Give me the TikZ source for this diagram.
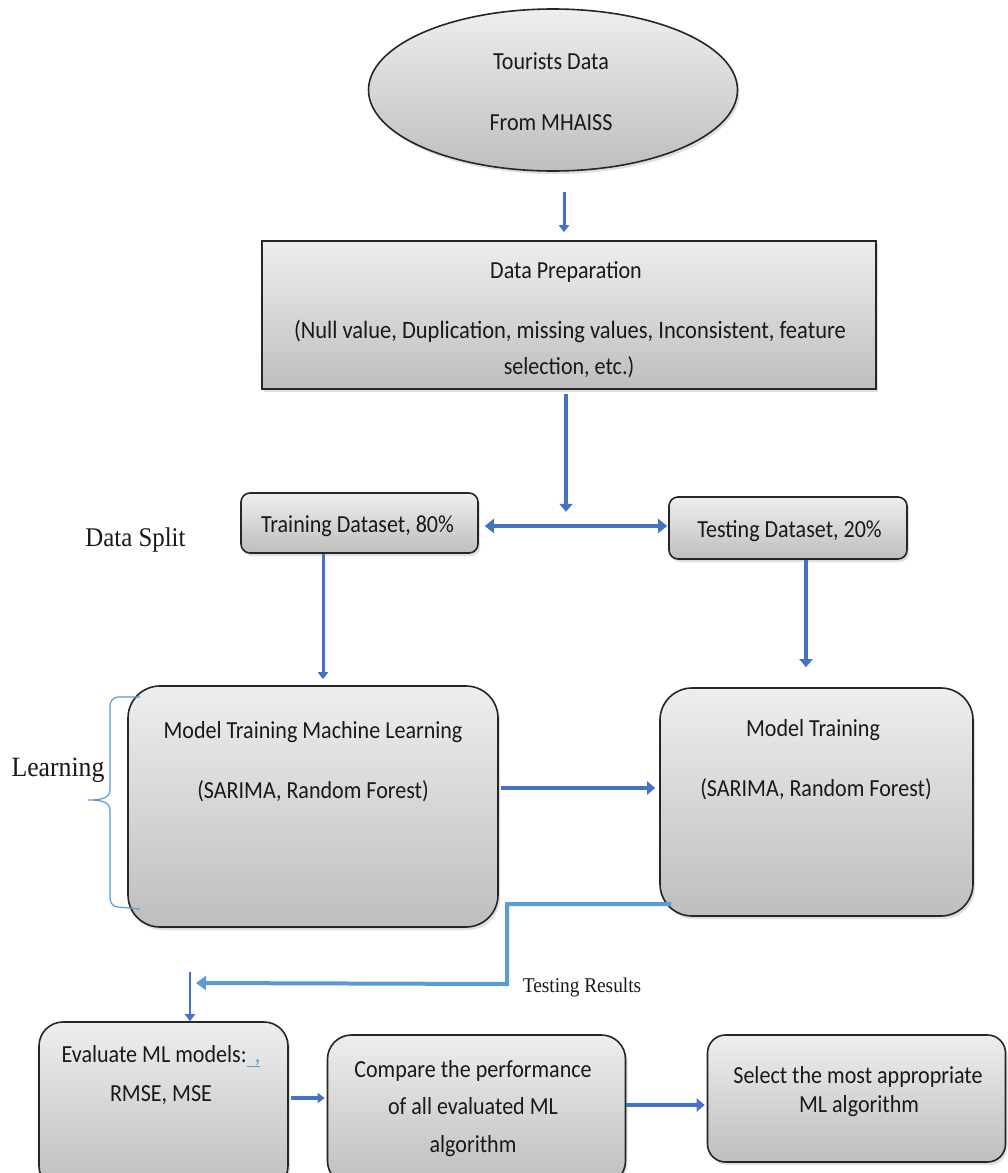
\documentclass[tikz,border=0pt]{standalone}
\usepackage{fontspec}
\setmainfont{Carlito}[FakeStretch=0.9]
\newfontfamily\serifont{Liberation Serif}[FakeStretch=0.92]
\usetikzlibrary{arrows.meta,shadows,shapes.geometric,calc}
\definecolor{arrowblue}{RGB}{68,114,196}
\definecolor{lightblue}{RGB}{91,155,213}
\definecolor{gtop}{RGB}{238,238,238}
\definecolor{gbot}{RGB}{190,190,190}
\definecolor{txtc}{RGB}{25,25,25}
\begin{document}
\begin{tikzpicture}[x=1pt,y=-1pt,
  box/.style={draw=black!85, line width=1.6pt, top color=gtop, bottom color=gbot,
    drop shadow={opacity=0.25,shadow xshift=2pt,shadow yshift=-3pt}, inner sep=0pt},
  rbox/.style={box, rectangle, rounded corners=#1},
  txt/.style={font=\fontsize{24.5}{28}\selectfont, text=txtc, inner sep=0pt, anchor=base},
  stxt/.style={font=\serifont\fontsize{27}{30}\selectfont, text=txtc, inner sep=0pt, anchor=base},
  arrA/.style={draw=arrowblue, line width=3pt, -{Triangle[length=7pt,width=10pt]}},
  arrB/.style={draw=arrowblue, line width=4.5pt, -{Triangle[length=8pt,width=13pt]}},
  dblarr/.style={draw=arrowblue, line width=4.5pt, {Triangle[length=9pt,width=14pt]}-{Triangle[length=9pt,width=14pt]}},
  resline/.style={draw=lightblue, line width=4pt, -{Triangle[length=10pt,width=14pt]}},
  bracestyle/.style={draw=lightblue, line width=1.2pt}
]
\clip (0,0) rectangle (1008,1173);
\fill[white] (0,0) rectangle (1008,1173);

% nodes
\node[box, ellipse, minimum width=369pt, minimum height=162pt] (ell) at (553,90) {};
\node[box, rectangle, minimum width=614pt, minimum height=148pt] (prep) at (569,315) {};
\node[rbox=9pt, minimum width=237pt, minimum height=60pt] (train) at (359.5,523) {};
\node[rbox=9pt, minimum width=238pt, minimum height=62pt] (test) at (788,528) {};
\node[rbox=32pt, minimum width=370pt, minimum height=241pt] (mlbox) at (313,806.5) {};
\node[rbox=32pt, minimum width=313pt, minimum height=228pt] (mtbox) at (816.5,802) {};
\node[rbox=24pt, minimum width=249pt, minimum height=168pt] (eval) at (163.5,1106) {};
\node[rbox=24pt, minimum width=298pt, minimum height=150pt] (comp) at (476.5,1110) {};
\node[rbox=18pt, minimum width=298pt, minimum height=127pt] (sel) at (856.5,1098.5) {};

% texts
\node[txt] (t1) at (551,69) {Tourists Data};
\node[txt] (t2) at (551,130) {From MHAISS};
\node[txt] (t3) at (566,278) {Data Preparation};
\node[txt, font=\fontsize{25}{28}\selectfont] (t4) at (570,338) {(Null value, Duplication, missing values, Inconsistent, feature};
\node[txt] (t5) at (569,374) {selection, etc.)};
\node[txt] (t6) at (357.5,532) {Training Dataset, 80\%};
\node[txt] (t7) at (789.5,537) {Testing Dataset, 20\%};
\node[stxt] (t8) at (135.5,546) {Data Split};
\node[txt] (t9) at (313,738) {Model Training Machine Learning};
\node[txt] (t10) at (313,798) {(SARIMA, Random Forest)};
\node[txt] (t11) at (813,736) {Model Training};
\node[txt] (t12) at (816,796) {(SARIMA, Random Forest)};
\node[stxt, font=\serifont\fontsize{28}{30}\selectfont] (t13) at (58,776) {Learning};
\node[stxt, font=\serifont\fontsize{21}{24}\selectfont] (t14) at (582,992) {Testing Results};
\node[txt] (t15) at (161,1062) {Evaluate ML models:\textcolor{lightblue}{\underline{\,\,,}}};
\node[txt] (t16) at (161,1101) {RMSE, MSE};
\node[txt] (t17) at (473,1077) {Compare the performance};
\node[txt] (t18) at (473,1114) {of all evaluated ML};
\node[txt] (t19) at (473,1152) {algorithm};
\node[txt] (t20) at (858,1083) {Select the most appropriate};
\node[txt] (t21) at (859,1112) {ML algorithm};

% connectors
\draw[arrA] ([xshift=11pt,yshift=-20pt]ell.south) -- ([xshift=-5pt,yshift=8pt]prep.north);
\draw[arrB] ([xshift=-3pt,yshift=-4pt]prep.south) -- ([xshift=-3pt,yshift=-122pt]prep.south);
\draw[dblarr] ([xshift=6pt,yshift=-3pt]train.east) -- ([xshift=-1pt,yshift=2pt]test.west);
\draw[arrA] ([xshift=-36.5pt]train.south) -- ([xshift=10pt,yshift=6pt]mlbox.north);
\draw[arrB] ([xshift=18pt]test.south) -- ([xshift=-10.5pt,yshift=20pt]mtbox.north);
\draw[arrB] ([xshift=2pt,yshift=18.5pt]mlbox.east) -- ([xshift=-4pt,yshift=14pt]mtbox.west);
\coordinate (tr) at (190,983);
\draw[resline] ([xshift=12pt,yshift=-102pt]mtbox.west) -- ++(-164,0) -- ++(0,80) -- ([xshift=6pt]tr);
\draw[arrA, line width=2.5pt] ([yshift=11pt]tr) -- ([xshift=26.5pt]eval.north);
\draw[arrA, line width=3.5pt] ([xshift=2pt,yshift=8pt]eval.east) -- ([xshift=-2pt,yshift=12pt]comp.west);
\draw[arrB] ([xshift=0pt,yshift=5pt]comp.east) -- ([xshift=-2pt,yshift=-6.5pt]sel.west);

% brace
\draw[bracestyle] (140,697) -- (118,697) to[out=180,in=90] (110,706) -- (110,790)
  to[out=-90,in=0] (88,800) to[out=0,in=90] (110,810) -- (110,898) to[out=-90,in=180] (118,907) -- (140,909);
\end{tikzpicture}
\end{document}
